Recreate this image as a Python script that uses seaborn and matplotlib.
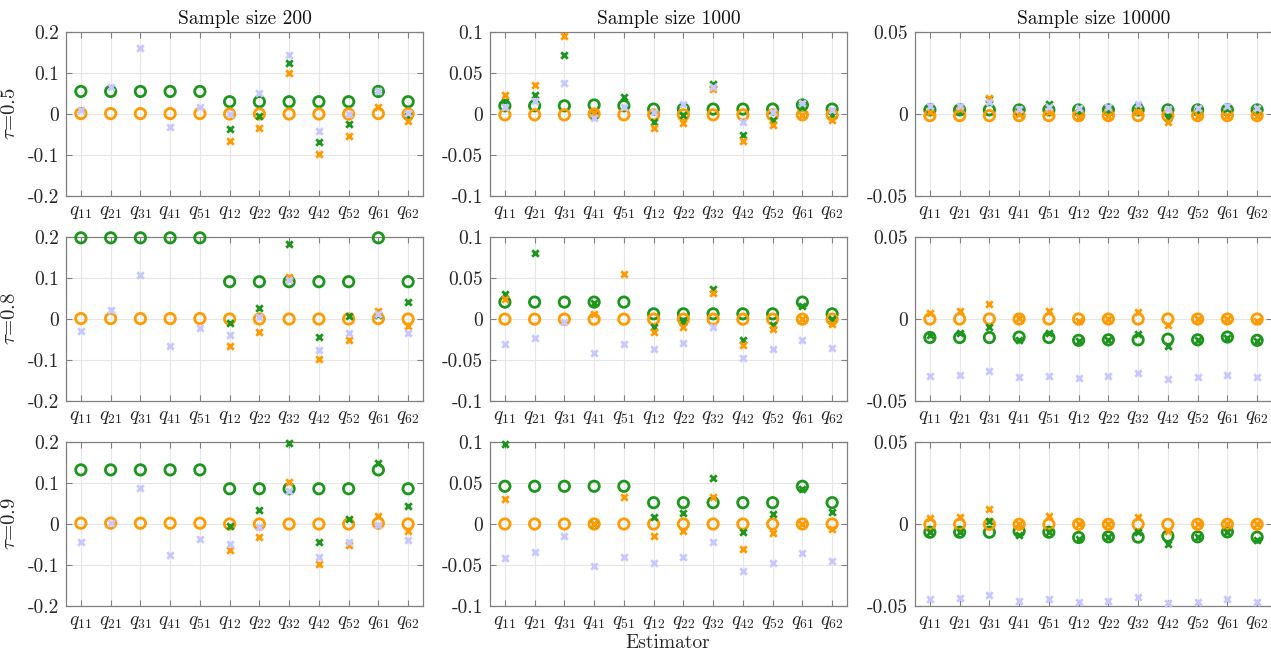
import numpy as np
import pandas as pd
import matplotlib
matplotlib.use("Agg")
import matplotlib.pyplot as plt
import seaborn as sns

nan = np.nan
estimators = ["q11", "q21", "q31", "q41", "q51", "q12", "q22", "q32", "q42", "q52", "q61", "q62"]
est_labels = [r"$q_{11}$", r"$q_{21}$", r"$q_{31}$", r"$q_{41}$", r"$q_{51}$", r"$q_{12}$",
              r"$q_{22}$", r"$q_{32}$", r"$q_{42}$", r"$q_{52}$", r"$q_{61}$", r"$q_{62}$"]
sample_sizes = ["200", "1000", "10000"]
taus = ["0.5", "0.8", "0.9"]

# ---- tau = 0.5 ----
gc_05_200 = [0.055, 0.055, 0.055, 0.055, 0.055, 0.030, 0.030, 0.030, 0.030, 0.030, 0.055, 0.030]
oc_05_200 = [0.001, 0.001, 0.001, 0.001, 0.001, 0.0, 0.0, 0.0, 0.0, 0.0, 0.001, 0.0]
gx_05_200 = [nan, nan, nan, nan, nan, -0.036, -0.005, 0.124, -0.069, -0.024, 0.055, -0.006]
ox_05_200 = [nan, nan, nan, nan, nan, -0.066, -0.034, 0.100, -0.098, -0.053, 0.017, -0.018]
lx_05_200 = [0.010, 0.067, 0.161, -0.032, 0.016, -0.001, 0.051, 0.145, -0.042, 0.001, 0.057, 0.002]

gc_05_1000 = [0.010, 0.010, 0.010, 0.011, 0.010, 0.006, 0.006, 0.006, 0.006, 0.006, 0.011, 0.006]
oc_05_1000 = [-0.001, -0.001, -0.001, 0.0, -0.001, -0.001, -0.001, -0.001, -0.001, -0.001, -0.001, -0.001]
gx_05_1000 = [0.016, 0.023, 0.072, -0.001, 0.021, -0.010, -0.001, 0.036, -0.025, -0.007, 0.009, -0.001]
ox_05_1000 = [0.023, 0.035, 0.095, 0.001, nan, -0.017, -0.011, 0.030, -0.033, -0.013, -0.0015, -0.007]
lx_05_1000 = [0.008, 0.016, 0.038, -0.005, 0.009, 0.003, 0.012, 0.033, -0.010, 0.003, 0.014, 0.005]

gc_05_10000 = [0.0025] * 12
oc_05_10000 = [-0.001] * 12
gx_05_10000 = [0.003, 0.002, 0.009, 0.002, 0.006, 0.001, 0.002, 0.005, -0.0025, 0.002, 0.003, 0.002]
ox_05_10000 = [0.001, 0.003, 0.0097, 0.0, 0.001, -0.002, -0.001, 0.001, -0.005, -0.001, -0.001, -0.001]
lx_05_10000 = [0.005, 0.005, 0.0075, 0.003, 0.0045, 0.0035, 0.0045, 0.006, 0.003, 0.0035, 0.005, 0.0035]

# ---- tau = 0.8 ----
gc_08_200 = [0.198, 0.198, 0.198, 0.198, 0.198, 0.091, 0.091, 0.091, 0.091, 0.091, 0.198, 0.091]
oc_08_200 = [0.001, 0.001, 0.001, 0.001, 0.001, 0.0, 0.0, 0.0, 0.0, 0.0, 0.001, 0.0]
gx_08_200 = [nan, nan, nan, nan, nan, -0.010, 0.026, 0.183, -0.044, 0.008, 0.010, 0.041]
ox_08_200 = [nan, nan, nan, nan, nan, -0.065, -0.032, 0.102, -0.097, -0.050, 0.020, -0.017]
lx_08_200 = [-0.030, 0.021, 0.108, -0.065, -0.023, -0.040, 0.006, 0.096, -0.075, -0.035, 0.011, -0.033]

gc_08_1000 = [0.0206, 0.0206, 0.0206, 0.0206, 0.0206, 0.0063, 0.0063, 0.0063, 0.0063, 0.0063, 0.0206, 0.0063]
oc_08_1000 = [-0.0002] * 12
gx_08_1000 = [0.031, 0.080, nan, 0.019, nan, -0.010, -0.004, 0.036, -0.025, -0.0075, 0.016, 0.0]
ox_08_1000 = [0.025, nan, nan, 0.0055, 0.055, -0.016, -0.0095, 0.0315, -0.0315, -0.012, 0.0, -0.0063]
lx_08_1000 = [-0.031, -0.023, -0.004, -0.042, -0.030, -0.037, -0.029, -0.010, -0.047, -0.036, -0.025, -0.035]

gc_08_10000 = [-0.0113, -0.0113, -0.0113, -0.011, -0.0113, -0.013, -0.0127, -0.0127, -0.0123, -0.0127, -0.011, -0.013]
oc_08_10000 = [0.0] * 12
gx_08_10000 = [-0.0097, -0.0087, -0.0046, -0.0127, -0.0087, -0.0137, -0.013, -0.009, -0.0164, -0.013, -0.0117, -0.0137]
ox_08_10000 = [0.0038, 0.0046, 0.009, 0.0005, 0.0048, -0.0015, 0.0, 0.0044, -0.0038, 0.0, 0.0, -0.0011]
lx_08_10000 = [-0.0345, -0.034, -0.032, -0.0355, -0.0345, -0.0357, -0.0347, -0.033, -0.0368, -0.0355, -0.034, -0.0355]

# ---- tau = 0.9 ----
gc_09_200 = [0.132, 0.132, 0.132, 0.132, 0.132, 0.086, 0.086, 0.086, 0.086, 0.086, 0.132, 0.086]
oc_09_200 = [0.002, 0.002, 0.002, 0.002, 0.002, 0.0, 0.0, 0.0, 0.0, 0.0, 0.002, 0.0]
gx_09_200 = [nan, nan, nan, nan, nan, -0.006, 0.033, 0.197, -0.044, 0.012, 0.150, 0.044]
ox_09_200 = [nan, nan, nan, nan, nan, -0.063, -0.031, 0.102, -0.097, -0.050, 0.020, -0.016]
lx_09_200 = [-0.044, 0.002, 0.089, -0.076, -0.037, -0.049, -0.008, 0.080, -0.081, -0.043, -0.003, -0.040]

gc_09_1000 = [0.046, 0.046, 0.046, 0.046, 0.046, 0.026, 0.026, 0.026, 0.026, 0.026, 0.046, 0.026]
oc_09_1000 = [0.0] * 12
gx_09_1000 = [0.097, nan, nan, 0.0, nan, 0.008, 0.0136, 0.056, -0.0096, 0.012, 0.043, 0.015]
ox_09_1000 = [0.030, nan, nan, 0.0, 0.033, -0.015, -0.0084, 0.033, -0.031, -0.011, 0.0, -0.0055]
lx_09_1000 = [-0.041, -0.034, -0.0145, -0.051, -0.040, -0.048, -0.0405, -0.0214, -0.0576, -0.047, -0.0356, -0.0446]

gc_09_10000 = [-0.005, -0.005, -0.005, -0.0044, -0.005, -0.0082, -0.0078, -0.008, -0.0074, -0.0078, -0.0048, -0.008]
oc_09_10000 = [-0.0002] * 12
gx_09_10000 = [-0.005, -0.005, 0.002, -0.007, -0.005, -0.0093, -0.008, -0.0046, -0.0123, -0.008, -0.005, -0.0097]
ox_09_10000 = [0.0036, 0.0044, 0.009, 0.0, 0.0046, 0.0, 0.0, 0.004, -0.004, 0.0, 0.0, 0.0]
lx_09_10000 = [-0.046, -0.0453, -0.0433, -0.047, -0.0457, -0.0478, -0.047, -0.0447, -0.0484, -0.0476, -0.0455, -0.0478]

panels = {
    ("0.5", "200"): (gc_05_200, oc_05_200, gx_05_200, ox_05_200, lx_05_200),
    ("0.5", "1000"): (gc_05_1000, oc_05_1000, gx_05_1000, ox_05_1000, lx_05_1000),
    ("0.5", "10000"): (gc_05_10000, oc_05_10000, gx_05_10000, ox_05_10000, lx_05_10000),
    ("0.8", "200"): (gc_08_200, oc_08_200, gx_08_200, ox_08_200, lx_08_200),
    ("0.8", "1000"): (gc_08_1000, oc_08_1000, gx_08_1000, ox_08_1000, lx_08_1000),
    ("0.8", "10000"): (gc_08_10000, oc_08_10000, gx_08_10000, ox_08_10000, lx_08_10000),
    ("0.9", "200"): (gc_09_200, oc_09_200, gx_09_200, ox_09_200, lx_09_200),
    ("0.9", "1000"): (gc_09_1000, oc_09_1000, gx_09_1000, ox_09_1000, lx_09_1000),
    ("0.9", "10000"): (gc_09_10000, oc_09_10000, gx_09_10000, ox_09_10000, lx_09_10000),
}

ylims = {"200": 0.2, "1000": 0.1, "10000": 0.05}
yticks = {"200": [-0.2, -0.1, 0, 0.1, 0.2], "1000": [-0.1, -0.05, 0, 0.05, 0.1], "10000": [-0.05, 0, 0.05]}
ytick_labels = {"200": ["-0.2", "-0.1", "0", "0.1", "0.2"],
                "1000": ["-0.1", "-0.05", "0", "0.05", "0.1"],
                "10000": ["-0.05", "0", "0.05"]}

GREEN = "#1c961c"
ORANGE = "#ff9a00"
LAV = "#c8c8ff"

sns.set_theme(style="white")
plt.rcParams["mathtext.fontset"] = "cm"
plt.rcParams["font.family"] = ["cmr10", "DejaVu Serif"]
plt.rcParams["axes.unicode_minus"] = False
plt.rcParams["axes.formatter.use_mathtext"] = True

fig = plt.figure(figsize=(12.71, 6.51), dpi=100)
W, H = 1271, 651
col_x = [66, 490, 915]
ax_w = 357
row_y = [32, 237, 442]
ax_h = 164

pos = np.arange(1, 13)
for r, tau in enumerate(taus):
    for c, n in enumerate(sample_sizes):
        left = col_x[c] / W
        bottom = 1 - (row_y[r] + ax_h) / H
        ax = fig.add_axes([left, bottom, ax_w / W, ax_h / H])
        gc, oc, gx, ox, lx = panels[(tau, n)]
        df = pd.DataFrame({"pos": pos, "gc": gc, "oc": oc, "gx": gx, "ox": ox, "lx": lx})
        sns.scatterplot(data=df, x="pos", y="gc", ax=ax, marker="o", s=56,
                        facecolor="none", edgecolor=GREEN, linewidth=2.0, zorder=3, clip_on=False)
        sns.scatterplot(data=df, x="pos", y="oc", ax=ax, marker="o", s=56,
                        facecolor="none", edgecolor=ORANGE, linewidth=2.0, zorder=3, clip_on=False)
        sns.scatterplot(data=df, x="pos", y="gx", ax=ax, marker="x", s=22,
                        color=GREEN, linewidth=2.0, zorder=4, clip_on=False)
        sns.scatterplot(data=df, x="pos", y="ox", ax=ax, marker="x", s=22,
                        color=ORANGE, linewidth=2.0, zorder=4, clip_on=False)
        sns.scatterplot(data=df, x="pos", y="lx", ax=ax, marker="x", s=22,
                        color=LAV, linewidth=2.0, zorder=5, clip_on=False)
        lim = ylims[n]
        ax.set_xlim(0.5, 12.5)
        ax.set_ylim(-lim, lim)
        ax.set_xticks(pos)
        ax.set_xticklabels(est_labels, fontsize=14, color="#262626")
        ax.set_yticks(yticks[n])
        ax.set_yticklabels(ytick_labels[n], fontsize=14, color="#262626")
        ax.grid(True, color="#e6e6e6", linewidth=0.8, zorder=0)
        ax.set_axisbelow(True)
        ax.tick_params(direction="in", length=4, width=0.8, color="#808080",
                       top=True, right=True, bottom=True, left=True, pad=5)
        for sp in ax.spines.values():
            sp.set_color("#808080")
            sp.set_linewidth(0.9)
        ax.set_xlabel("")
        ax.set_ylabel("")
        if r == 0:
            ax.set_title("Sample size " + n, fontsize=14, color="#111111", pad=6)
        if c == 0:
            ax.set_ylabel(r"$\tau$=" + tau, fontsize=15, color="#262626", labelpad=6)

fig.text(668 / W, 1 - 643 / H, "Estimator", ha="center", va="center", fontsize=14, color="#262626")
fig.savefig("out.png", dpi=100)
